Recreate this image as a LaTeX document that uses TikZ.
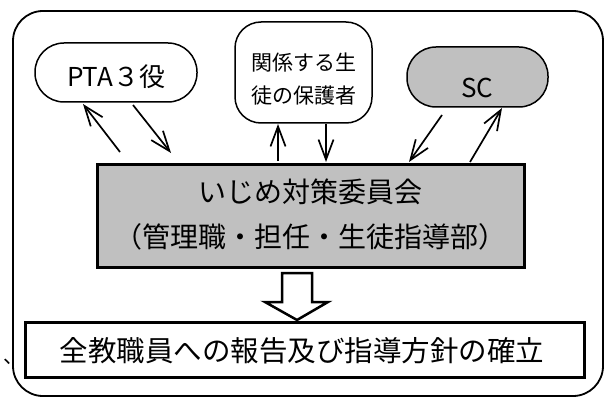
\documentclass[tikz,border=0pt]{standalone}
\usepackage{fontspec}
\setmainfont{Noto Sans CJK JP}
\usetikzlibrary{arrows.meta}
\definecolor{boxgray}{HTML}{C0C0C0}
\begin{document}
\begin{tikzpicture}[x=1pt,y=-1pt,
  pill/.style={draw, line width=1.5pt, inner sep=0pt},
  heavybox/.style={draw, line width=3pt, inner sep=0pt},
  txt/.style={inner sep=0pt, anchor=center},
  conn/.style={line width=1.7pt, -{Straight Barb[length=20pt,width=15pt,line width=1.7pt]}}]
\useasboundingbox (0,0) rectangle (609,398);
% outer frame
\draw[line width=1.8pt, rounded corners=30pt] (13,11) rectangle (603,396);
% top nodes
\node[pill, rounded corners=29pt, minimum width=162pt, minimum height=59pt] (pta) at (116,72.5) {};
\node[txt, font=\fontsize{26}{26}\selectfont] (ptatext) at (116,77) {PTA３役};
\node[pill, rounded corners=26pt, minimum width=137pt, minimum height=101pt] (guard) at (303.5,72.5) {};
\node[txt, align=center, font=\fontsize{21}{33}\selectfont] (guardtext) at (303.5,79) {関係する生\\徒の保護者};
\node[pill, fill=boxgray, rounded corners=29pt, minimum width=141pt, minimum height=60pt] (sc) at (477.5,77) {};
\node[txt, font=\fontsize{26}{26}\selectfont] (sctext) at (477.5,88) {SC};
% main committee box
\node[heavybox, fill=boxgray, minimum width=427pt, minimum height=103pt] (main) at (310.5,215.5) {};
\node[txt, align=center, font=\fontsize{28}{45}\selectfont] (maintext) at (310.5,215) {いじめ対策委員会\\（管理職・担任・生徒指導部）};
% bottom box
\node[heavybox, fill=white, minimum width=559pt, minimum height=55pt] (result) at (304.5,349.5) {};
\node[txt, font=\fontsize{28.5}{28.5}\selectfont] (resulttext) at (302,351) {全教職員への報告及び指導方針の確立};
% stray mark
\node[txt, font=\fontsize{20}{20}\selectfont] (mark) at (14,362) {、};
% connector end points
\coordinate (p1a) at (120,152); \coordinate (p1b) at (83,104);
\coordinate (p2a) at (133,105); \coordinate (p2b) at (171,153);
\coordinate (g1a) at (278,161); \coordinate (g1b) at (278,124);
\coordinate (g2a) at (326,124); \coordinate (g2b) at (326,162);
\coordinate (s1a) at (442,115); \coordinate (s1b) at (409,162);
\coordinate (s2a) at (470,162); \coordinate (s2b) at (502,108);
\draw[conn] (p1a) -- (p1b);
\draw[conn] (p2a) -- (p2b);
\draw[conn] (g1a) -- (g1b);
\draw[conn] (g2a) -- (g2b);
\draw[conn] (s1a) -- (s1b);
\draw[conn] (s2a) -- (s2b);
% hollow block arrow
\draw[line width=2.5pt, line join=miter, fill=white]
  (282,273) -- (312,273) -- (312,302) -- (328,302) -- (297,320) -- (265,302) -- (282,302) -- cycle;
\end{tikzpicture}
\end{document}
